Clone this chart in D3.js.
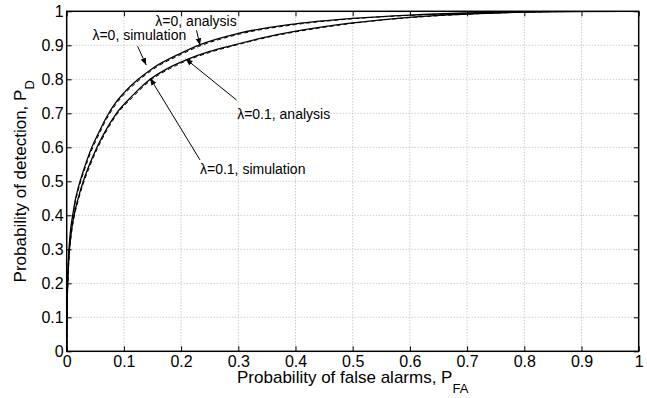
<!DOCTYPE html>
<html><head><meta charset="utf-8">
<script src="https://cdn.jsdelivr.net/npm/d3@7"></script>
<style>body{margin:0;background:#fff}svg{display:block}text{font-family:"Liberation Sans",Arial,sans-serif;fill:#000}</style>
</head><body><svg id="c" width="647" height="398"></svg>
<script>
const xTicks = [0,0.1,0.2,0.3,0.4,0.5,0.6,0.7,0.8,0.9,1];
const yTicks = [0,0.1,0.2,0.3,0.4,0.5,0.6,0.7,0.8,0.9,1];
const xTickLabels = ["0","0.1","0.2","0.3","0.4","0.5","0.6","0.7","0.8","0.9","1"];
const yTickLabels = ["0","0.1","0.2","0.3","0.4","0.5","0.6","0.7","0.8","0.9","1"];

// lambda = 0, analysis
const pfaA0 = [0,0.0005,0.001,0.002,0.004,0.007,0.0105,0.015,0.02,0.03,0.044,0.055,0.07,0.085,0.1,0.125,0.15,0.2,0.23,0.3,0.4,0.5,0.6,0.7,0.8,0.9,1];
const pdA0  = [0,0.12,0.17,0.23,0.3,0.36,0.4,0.445,0.48,0.535,0.6,0.64,0.69,0.73,0.76,0.8,0.832,0.877,0.9,0.935,0.963,0.979,0.989,0.995,0.998,1,1];
// lambda = 0, simulation
const pfaS0 = [0,0.0005,0.001,0.002,0.004,0.007,0.0105,0.015,0.02,0.03,0.044,0.055,0.07,0.085,0.1,0.125,0.15,0.2,0.23,0.3,0.4,0.5,0.6,0.7,0.8,0.9,1];
const pdS0  = [0,0.11,0.16,0.22,0.29,0.352,0.393,0.438,0.473,0.528,0.593,0.633,0.684,0.724,0.755,0.795,0.828,0.873,0.896,0.932,0.961,0.978,0.988,0.994,0.998,1,1];
// lambda = 0.1, analysis
const pfaA1 = [0,0.0005,0.001,0.002,0.004,0.008,0.0128,0.02,0.029,0.04,0.053,0.07,0.087,0.115,0.146,0.18,0.21,0.25,0.29,0.35,0.45,0.55,0.65,0.75,0.85,1];
const pdA1  = [0,0.1,0.15,0.21,0.28,0.35,0.4,0.45,0.5,0.55,0.6,0.655,0.7,0.752,0.8,0.835,0.858,0.882,0.9,0.925,0.955,0.975,0.988,0.995,0.999,1];
// lambda = 0.1, simulation
const pfaS1 = [0,0.0005,0.001,0.002,0.004,0.008,0.0128,0.02,0.029,0.04,0.053,0.07,0.087,0.115,0.146,0.18,0.21,0.25,0.29,0.35,0.45,0.55,0.65,0.75,0.85,1];
const pdS1  = [0,0.09,0.14,0.2,0.27,0.342,0.393,0.443,0.493,0.543,0.594,0.649,0.695,0.747,0.796,0.831,0.855,0.879,0.898,0.923,0.953,0.974,0.987,0.995,0.999,1];

const annotations = [
  {text:"λ=0, analysis", tx:0.155, ty:0.97, fx:0.227, fy:0.944, px:0.233, py:0.9},
  {text:"λ=0, simulation", tx:0.045, ty:0.93, fx:0.124, fy:0.897, px:0.139, py:0.842},
  {text:"λ=0.1, analysis", tx:0.298, ty:0.698, fx:0.297, fy:0.739, px:0.208, py:0.86},
  {text:"λ=0.1, simulation", tx:0.233, ty:0.535, fx:0.233, fy:0.563, px:0.146, py:0.803}
];

const svg = d3.select("#c");
svg.append("rect").attr("width",647).attr("height",398).attr("fill","#fff");
const L=66.7, R=638.7, T=11.3, B=351.3;
const x = d3.scaleLinear().domain([0,1]).range([L,R]);
const y = d3.scaleLinear().domain([0,1]).range([B,T]);

// grid
const g = svg.append("g");
g.selectAll(".gx").data(xTicks.slice(1,-1)).join("line")
  .attr("x1",d=>x(d)).attr("x2",d=>x(d)).attr("y1",T).attr("y2",B)
  .attr("stroke","#b4b4b4").attr("stroke-width",1).attr("stroke-dasharray","1,2");
g.selectAll(".gy").data(yTicks.slice(1,-1)).join("line")
  .attr("y1",d=>y(d)).attr("y2",d=>y(d)).attr("x1",L).attr("x2",R)
  .attr("stroke","#b4b4b4").attr("stroke-width",1).attr("stroke-dasharray","1,2");

// axes
const ax = svg.append("g").attr("transform",`translate(0,${B})`)
  .call(d3.axisBottom(x).tickValues(xTicks).tickFormat((d,i)=>xTickLabels[i]).tickSizeInner(-5).tickSizeOuter(0).tickPadding(4));
const axT = svg.append("g").attr("transform",`translate(0,${T})`)
  .call(d3.axisTop(x).tickValues(xTicks).tickFormat("").tickSizeInner(-5).tickSizeOuter(0));
const ay = svg.append("g").attr("transform",`translate(${L},0)`)
  .call(d3.axisLeft(y).tickValues(yTicks).tickFormat((d,i)=>yTickLabels[i]).tickSizeInner(-5).tickSizeOuter(0).tickPadding(3));
const ayR = svg.append("g").attr("transform",`translate(${R},0)`)
  .call(d3.axisRight(y).tickValues(yTicks).tickFormat("").tickSizeInner(-5).tickSizeOuter(0));
[ax,axT,ay,ayR].forEach(a=>{
  a.select(".domain").remove();
  a.selectAll(".tick line").attr("stroke","#000");
  a.selectAll("text").style("font-size","16px").style("font-family","Liberation Sans, Arial, sans-serif").attr("fill","#000");
});
svg.append("rect").attr("x",L).attr("y",T).attr("width",R-L).attr("height",B-T)
  .attr("fill","none").attr("stroke","#000").attr("stroke-width",1.5);

// curves
const line = d3.line().x(d=>x(d[0])).y(d=>y(d[1])).curve(d3.curveMonotoneX);
const series = [
  {px:pfaS0, py:pdS0, dash:"4,3", w:1},
  {px:pfaS1, py:pdS1, dash:"4,3", w:1},
  {px:pfaA0, py:pdA0, dash:null, w:1.3},
  {px:pfaA1, py:pdA1, dash:null, w:1.3}
];
svg.append("clipPath").attr("id","clip").append("rect").attr("x",L).attr("y",T).attr("width",R-L).attr("height",B-T);
svg.append("g").attr("clip-path","url(#clip)").selectAll("path").data(series).join("path")
  .attr("d",s=>line(s.px.map((v,i)=>[v,s.py[i]])))
  .attr("fill","none").attr("stroke","#000").attr("stroke-width",s=>s.w)
  .attr("stroke-dasharray",s=>s.dash);

// arrows
svg.append("defs").append("marker").attr("id","ah").attr("viewBox","0 0 10 10")
  .attr("refX",10).attr("refY",5).attr("markerWidth",7).attr("markerHeight",7)
  .attr("markerUnits","userSpaceOnUse").attr("orient","auto")
  .append("path").attr("d","M0,1 L10,5 L0,9 Z").attr("fill","#000");
const an = svg.append("g");
an.selectAll("line").data(annotations).join("line")
  .attr("x1",d=>x(d.fx)).attr("y1",d=>y(d.fy)).attr("x2",d=>x(d.px)).attr("y2",d=>y(d.py))
  .attr("stroke","#000").attr("stroke-width",1).attr("marker-end","url(#ah)");
an.selectAll("text").data(annotations).join("text")
  .attr("x",d=>x(d.tx)).attr("y",d=>y(d.ty)).attr("dy","0.35em")
  .style("font-size","14px").text(d=>d.text);

// axis labels
const xl = svg.append("text").attr("x",(L+R)/2).attr("y",383).attr("text-anchor","middle").style("font-size","17px");
xl.append("tspan").text("Probability of false alarms, P");
xl.append("tspan").attr("dy",10).style("font-size","13px").text("FA");
const yl = svg.append("text").attr("transform",`translate(26,${(T+B)/2}) rotate(-90)`).attr("text-anchor","middle").style("font-size","17px");
yl.append("tspan").text("Probability of detection, P");
yl.append("tspan").attr("dy",8).style("font-size","13px").text("D");
</script></body></html>
